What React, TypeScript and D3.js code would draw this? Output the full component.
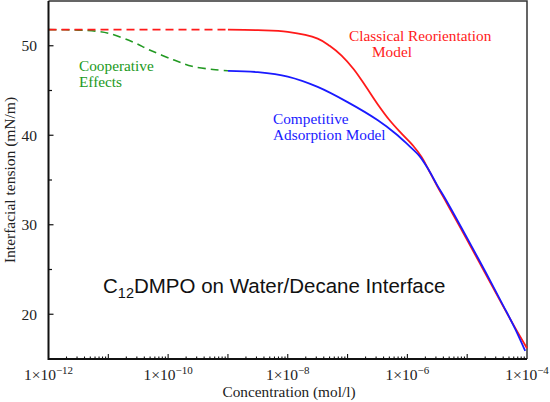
import { useEffect, useRef } from 'react';
import * as d3 from 'd3';

// log10 concentration (mol/l) and interfacial tension (mN/m)
const redDashLogC = [-12, -9];
const redDashVals = [51.8, 51.8];

const redLogC = [-9, -8.5, -8, -7.5, -7.3, -7.1, -6.9, -6.7, -6.5, -6.3, -6.1, -5.9, -5.76, -5.65, -5.5, -5.34, -5.0, -4.7, -4.4, -4.2, -4.0];
const redVals = [51.8, 51.74, 51.55, 50.8, 50.0, 48.9, 47.4, 45.5, 43.5, 41.7, 40.2, 38.8, 37.55, 36.2, 34.3, 32.4, 28.3, 24.6, 20.9, 18.5, 16.2];

const blueLogC = [-9, -8.5, -8, -7.5, -7, -6.5, -6.2, -6.0, -5.8, -5.65, -5.5, -5.34, -5.0, -4.7, -4.4, -4.2, -4.03];
const blueVals = [47.2, 47.05, 46.55, 45.4, 43.7, 41.7, 40.2, 39.0, 37.7, 36.2, 34.4, 32.6, 28.5, 24.8, 21.0, 18.4, 15.9];

const greenLogC = [-12, -11.5, -11.2, -11.0, -10.6, -10.3, -9.9, -9.6, -9.25, -9.0];
const greenVals = [51.8, 51.75, 51.62, 51.4, 50.45, 49.5, 48.4, 47.7, 47.35, 47.2];

const yTicks = [20, 30, 40, 50];
const yMinorTicks = [25, 35, 45];
const xLabelExps = [-12, -10, -8, -6, -4];

const W = 550;
const H = 402;
const SERIF = '"Liberation Serif", "Times New Roman", serif';
const SANS = '"Liberation Sans", Arial, sans-serif';

export default function App() {
    const svgRef = useRef<SVGSVGElement>(null);

    useEffect(() => {
        if (!svgRef.current) return;
        const svg = d3.select(svgRef.current);
        svg.selectAll('*').remove();

        const x = d3.scaleLog().domain([1e-12, 1e-4]).range([48.5, 527]);
        const y = d3.scaleLinear().domain([15, 55]).range([359, 1]);

        const line = d3.line<[number, number]>()
            .x(d => x(Math.pow(10, d[0])))
            .y(d => y(d[1]))
            .curve(d3.curveCatmullRom.alpha(0.5));

        const zip = (a: number[], b: number[]) => a.map((v, i) => [v, b[i]] as [number, number]);

        // frame: top/right thin gray
        svg.append('path')
            .attr('d', `M${x(1e-12)},${y(55)}H${x(1e-4)}V${y(15)}`)
            .attr('fill', 'none')
            .attr('stroke', '#333')
            .attr('stroke-width', 1.5);

        // curves
        svg.append('path')
            .attr('d', line(zip(greenLogC, greenVals))!)
            .attr('fill', 'none')
            .attr('stroke', '#229922')
            .attr('stroke-width', 1.6)
            .attr('stroke-dasharray', '8,5');

        svg.append('path')
            .attr('d', line(zip(redDashLogC, redDashVals))!)
            .attr('fill', 'none')
            .attr('stroke', '#ff1a1a')
            .attr('stroke-width', 1.6)
            .attr('stroke-dasharray', '8,5');

        svg.append('path')
            .attr('d', line(zip(redLogC, redVals))!)
            .attr('fill', 'none')
            .attr('stroke', '#ff1a1a')
            .attr('stroke-width', 1.8);

        svg.append('path')
            .attr('d', line(zip(blueLogC, blueVals))!)
            .attr('fill', 'none')
            .attr('stroke', '#1a1aff')
            .attr('stroke-width', 1.8);

        // axes lines
        svg.append('path')
            .attr('d', `M${x(1e-12)},${y(55)}V${y(15)}H${x(1e-4)}`)
            .attr('fill', 'none')
            .attr('stroke', '#111')
            .attr('stroke-width', 2);

        // y ticks
        yTicks.forEach(t => {
            svg.append('line')
                .attr('x1', x(1e-12)).attr('x2', x(1e-12) + 5)
                .attr('y1', y(t)).attr('y2', y(t))
                .attr('stroke', '#111').attr('stroke-width', 1.2);
            svg.append('text')
                .attr('x', 37).attr('y', y(t))
                .attr('text-anchor', 'end')
                .attr('dominant-baseline', 'central')
                .attr('font-family', SERIF)
                .attr('font-size', 15.5)
                .attr('fill', '#222')
                .text(t);
        });
        yMinorTicks.forEach(t => {
            svg.append('line')
                .attr('x1', x(1e-12)).attr('x2', x(1e-12) + 3.5)
                .attr('y1', y(t)).attr('y2', y(t))
                .attr('stroke', '#111').attr('stroke-width', 1.2);
        });

        // x ticks
        for (let e = -12; e < -4; e++) {
            for (let m = 1; m <= 9; m++) {
                const v = m * Math.pow(10, e);
                if (m === 1 && e === -12) continue;
                const len = m === 1 ? 5 : 2.5;
                svg.append('line')
                    .attr('x1', x(v)).attr('x2', x(v))
                    .attr('y1', y(15)).attr('y2', y(15) - len)
                    .attr('stroke', '#111').attr('stroke-width', 1.1);
            }
        }
        xLabelExps.forEach(e => {
            const t = svg.append('text')
                .attr('x', x(Math.pow(10, e)))
                .attr('y', 380)
                .attr('text-anchor', 'middle')
                .attr('font-family', SERIF)
                .attr('font-size', 15.5)
                .attr('fill', '#222');
            t.append('tspan').text('1×10');
            t.append('tspan').attr('dy', -6).attr('font-size', 11).text(`−${-e}`);
        });

        // axis titles
        svg.append('text')
            .attr('x', 289).attr('y', 397)
            .attr('text-anchor', 'middle')
            .attr('font-family', SERIF)
            .attr('font-size', 15.3)
            .attr('fill', '#222')
            .text('Concentration (mol/l)');

        svg.append('text')
            .attr('transform', 'translate(15,180) rotate(-90)')
            .attr('text-anchor', 'middle')
            .attr('font-family', SERIF)
            .attr('font-size', 15.5)
            .attr('fill', '#222')
            .text('Interfacial tension (mN/m)');

        // annotations
        const note = (lines: [string, number, number][], color: string) => {
            lines.forEach(([s, lx, ly]) => {
                svg.append('text')
                    .attr('x', lx).attr('y', ly)
                    .attr('font-family', SERIF)
                    .attr('font-size', 15.3)
                    .attr('fill', color)
                    .text(s);
            });
        };
        note([['Classical Reorientation', 349, 41], ['Model', 372, 57]], '#ff1a1a');
        note([['Cooperative', 79, 71], ['Effects', 79, 87]], '#229922');
        note([['Competitive', 273, 124], ['Adsorption Model', 273, 140]], '#1a1aff');

        const title = svg.append('text')
            .attr('x', 103).attr('y', 293)
            .attr('font-family', SANS)
            .attr('font-size', 20.5)
            .attr('fill', '#111');
        title.append('tspan').text('C');
        title.append('tspan').attr('dy', 5).attr('font-size', 14.5).text('12');
        title.append('tspan').attr('dy', -5).text('DMPO on Water/Decane Interface');
    }, []);

    return (
        <svg
            ref={svgRef}
            width={W}
            height={H}
            style={{ position: 'absolute', left: 0, top: 0, background: '#fff' }}
        />
    );
}
